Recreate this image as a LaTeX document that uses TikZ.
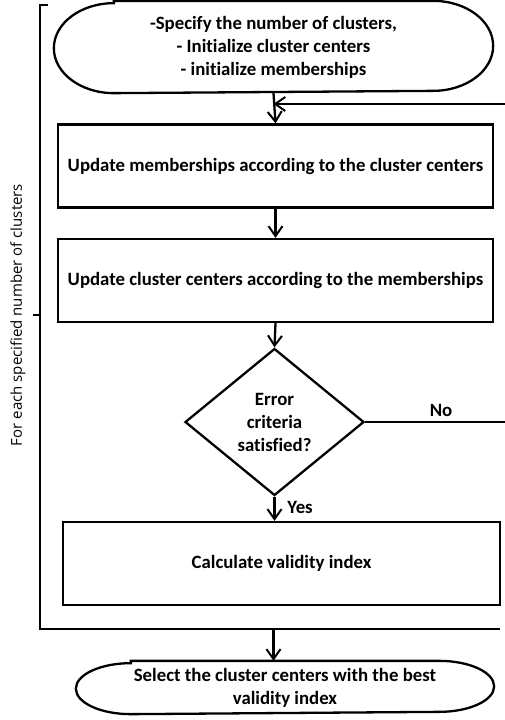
\documentclass[tikz,border=0pt]{standalone}
\usepackage{fontspec}
\setmainfont{Carlito}[Ligatures=NoCommon]
\newfontfamily\sidefont{Open Sans}
\usetikzlibrary{shapes.geometric,arrows.meta}

\begin{document}
\begin{tikzpicture}[x=1pt, y=-1pt, line width=2.3pt,
    every text node part/.style={align=center},
    font=\fontsize{18.8}{23}\selectfont\bfseries]
        \tikzset{
          stepbox/.style={draw, rectangle, minimum width=435pt, minimum height=83pt, inner sep=0pt},
          ovalnode/.style={draw=none, inner sep=0pt},
          testbox/.style={draw, diamond, minimum width=179pt, minimum height=147pt, inner sep=0pt, aspect=1.2},
          flow/.style={-{Straight Barb[length=10pt,width=14pt,line width=2pt]}},
        }
        \useasboundingbox (0,0) rectangle (505,720);
        % 
        \node [ovalnode, minimum width=437pt, minimum height=90pt] (start) at (273.5,47) {-Specify the number of clusters,\\ - Initialize cluster centers\\ - initialize memberships};
        \draw ([xshift=60pt]start.north west) -- ([xshift=-60pt]start.north east)
          arc[start angle=90, end angle=-90, x radius=60pt, y radius=45pt]
          -- ([xshift=60pt]start.south west)
          arc[start angle=270, end angle=90, x radius=60pt, y radius=45pt] -- cycle;
        \node [stepbox] (memb) at (275.5,166) {Update memberships according to the cluster centers};
        \node [stepbox] (cent) at (275.5,280.5) {Update cluster centers according to the memberships};
        \node [testbox] (err) at (274.5,422) {Error\\ criteria\\ satisfied?};
        \node [stepbox, minimum width=437pt] (valid) at (281.5,563.5) {Calculate validity index};
        \node [ovalnode, minimum width=416pt, minimum height=51pt] (best) at (285,687.5) {Select the cluster centers with the best\\ validity index};
        \draw ([xshift=55pt]best.north west) -- ([xshift=-55pt]best.north east)
          arc[start angle=90, end angle=-90, x radius=55pt, y radius=25.5pt]
          -- ([xshift=55pt]best.south west)
          arc[start angle=270, end angle=90, x radius=55pt, y radius=25.5pt] -- cycle;
        % 
        \coordinate (brtop) at (48,5);
        \coordinate (brcorner) at (40,5);
        \coordinate (brmid) at (40,315);
        \coordinate (brtick) at (33,315);
        \coordinate (brbot) at (40,629);
        \coordinate (brend) at (500,629);
        \coordinate (back) at (505,104);
        \draw (brtop) -- (brcorner) -- (brbot) -- (brend);
        \draw (brmid) -- (brtick);
        \node [font=\sidefont\fontsize{15}{17}\selectfont, rotate=90] (each) at (18,315) {For each specified number of clusters};
        % 
        \draw [flow] (start.south) -- (memb.north);
        \draw [flow] (back) -- (back -| start.south);
        \draw [flow] (memb.south) -- (cent.north);
        \draw [flow] (cent.south) -- (err.north);
        \draw [flow] (err.south) -- (err.south |- valid.north);
        \draw (err.east) -- (err.east -| back);
        \draw [flow] (brbot -| start.south) -- (start.south |- best.north);
        \node (no) at (441,410) {No};
        \node [anchor=west] (yes) at (283,507) {Yes};
    \end{tikzpicture}
\end{document}
